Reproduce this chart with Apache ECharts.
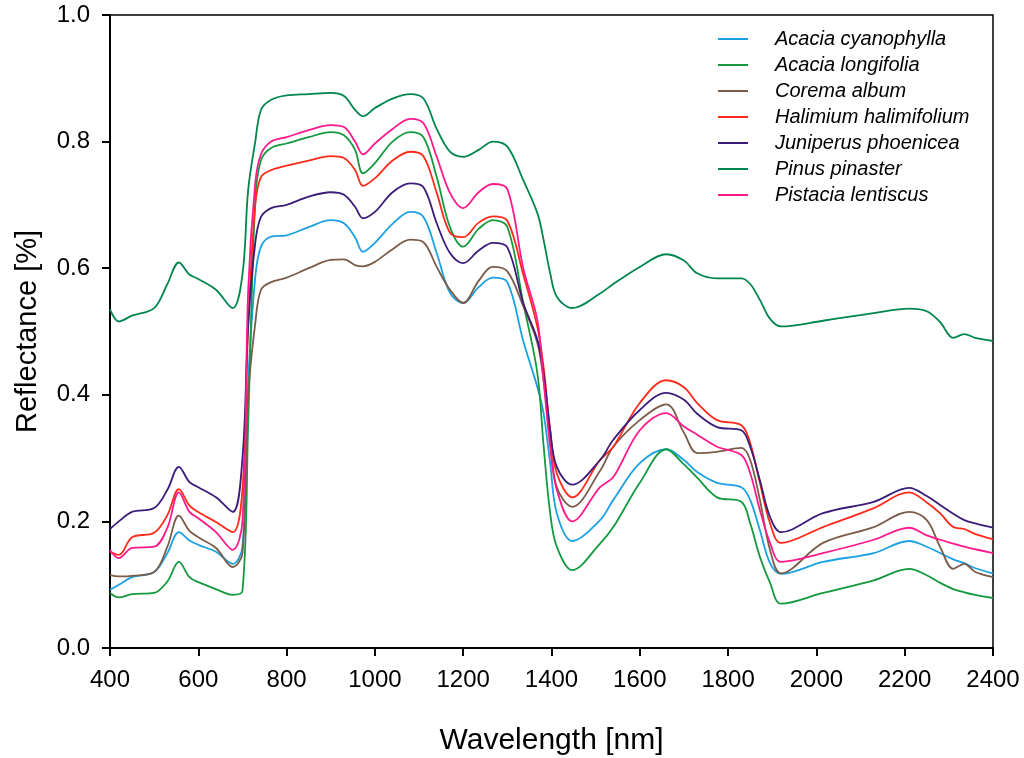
<!DOCTYPE html>
<html><head><meta charset="utf-8">
<script src="https://cdn.jsdelivr.net/npm/echarts@6/dist/echarts.min.js"></script>
<style>html,body{margin:0;padding:0;background:#fff}#c{width:1024px;height:758px}</style>
</head><body><div id="c"></div>
<script>
const wavelengths = [400,420,450,500,530,556,580,600,640,678,700,713,729,742,765,800,850,900,930,955,973,1000,1040,1080,1110,1140,1170,1200,1235,1267,1300,1336,1368,1382,1397,1412,1447,1510,1540,1600,1660,1700,1730,1775,1830,1850,1872,1895,1920,2015,2130,2210,2250,2280,2310,2335,2360,2400];

const acaciaCyanophylla = [0.092,0.100,0.112,0.120,0.150,0.183,0.170,0.163,0.152,0.133,0.160,0.420,0.586,0.634,0.650,0.652,0.665,0.676,0.671,0.649,0.626,0.640,0.670,0.689,0.681,0.624,0.561,0.545,0.570,0.585,0.578,0.485,0.412,0.371,0.292,0.213,0.169,0.202,0.234,0.292,0.314,0.297,0.278,0.261,0.254,0.234,0.186,0.134,0.117,0.136,0.150,0.169,0.160,0.150,0.140,0.134,0.126,0.118];
const acaciaLongifolia = [0.087,0.080,0.085,0.087,0.105,0.136,0.112,0.104,0.093,0.084,0.090,0.355,0.708,0.771,0.790,0.797,0.807,0.815,0.810,0.787,0.750,0.766,0.800,0.815,0.807,0.744,0.665,0.634,0.662,0.676,0.665,0.545,0.434,0.320,0.213,0.160,0.123,0.165,0.191,0.261,0.314,0.290,0.269,0.238,0.231,0.197,0.144,0.103,0.070,0.087,0.107,0.125,0.115,0.103,0.093,0.088,0.084,0.079];
const coremaAlbum = [0.115,0.113,0.114,0.120,0.160,0.209,0.185,0.175,0.158,0.128,0.150,0.400,0.513,0.566,0.578,0.585,0.600,0.613,0.614,0.605,0.603,0.610,0.630,0.645,0.641,0.602,0.566,0.545,0.580,0.602,0.595,0.540,0.482,0.423,0.329,0.254,0.223,0.280,0.318,0.360,0.385,0.340,0.308,0.310,0.316,0.297,0.234,0.155,0.118,0.166,0.191,0.215,0.202,0.160,0.125,0.133,0.120,0.112];
const halimium = [0.152,0.147,0.175,0.182,0.210,0.251,0.225,0.215,0.199,0.183,0.250,0.510,0.700,0.744,0.755,0.762,0.770,0.777,0.774,0.755,0.730,0.742,0.770,0.784,0.777,0.719,0.656,0.649,0.672,0.682,0.675,0.590,0.507,0.444,0.344,0.276,0.238,0.297,0.318,0.387,0.423,0.412,0.387,0.360,0.352,0.324,0.261,0.197,0.166,0.191,0.221,0.246,0.230,0.213,0.191,0.188,0.180,0.172];
const juniperus = [0.188,0.200,0.215,0.221,0.250,0.286,0.262,0.254,0.238,0.215,0.300,0.510,0.640,0.681,0.695,0.700,0.713,0.720,0.716,0.697,0.679,0.689,0.720,0.734,0.728,0.671,0.624,0.608,0.628,0.640,0.633,0.545,0.487,0.434,0.344,0.286,0.258,0.297,0.329,0.376,0.403,0.392,0.370,0.349,0.344,0.318,0.265,0.207,0.183,0.213,0.231,0.253,0.240,0.226,0.212,0.202,0.197,0.190];
const pinus = [0.535,0.516,0.525,0.537,0.575,0.609,0.590,0.583,0.566,0.537,0.590,0.724,0.800,0.850,0.866,0.873,0.875,0.877,0.872,0.850,0.840,0.853,0.868,0.875,0.868,0.820,0.784,0.776,0.787,0.800,0.792,0.739,0.687,0.645,0.592,0.555,0.537,0.560,0.575,0.602,0.622,0.612,0.592,0.584,0.584,0.575,0.550,0.520,0.508,0.517,0.529,0.536,0.532,0.515,0.490,0.496,0.490,0.485];
const pistacia = [0.155,0.142,0.158,0.160,0.190,0.246,0.215,0.205,0.183,0.155,0.200,0.566,0.735,0.780,0.800,0.807,0.818,0.826,0.823,0.800,0.780,0.797,0.820,0.836,0.829,0.776,0.719,0.695,0.720,0.733,0.725,0.600,0.518,0.423,0.318,0.250,0.200,0.254,0.270,0.344,0.371,0.350,0.337,0.318,0.305,0.276,0.218,0.166,0.136,0.150,0.171,0.190,0.178,0.171,0.165,0.160,0.156,0.150];

const seriesNames = ['Acacia cyanophylla','Acacia longifolia','Corema album','Halimium halimifolium','Juniperus phoenicea','Pinus pinaster','Pistacia lentiscus'];
const seriesValues = [acaciaCyanophylla, acaciaLongifolia, coremaAlbum, halimium, juniperus, pinus, pistacia];
const seriesColors = ['#1BA1E2','#14993F','#7A5C48','#FF2A1A','#3B1C78','#00864E','#FF1A8C'];

const chart = echarts.init(document.getElementById('c'));
const FONT = 'Liberation Sans, Arial, sans-serif';
chart.setOption({
  animation: false,
  backgroundColor: '#fff',
  grid: {left: 110, right: 31, top: 15, bottom: 110, containLabel: false, outerBoundsMode: 'none',
         show: true, borderColor: '#000', borderWidth: 1.5, backgroundColor: 'transparent'},
  legend: {
    orient: 'vertical', left: 713, top: 24, itemWidth: 30, itemHeight: 14, itemGap: 6,
    icon: 'path://M0,0 L30,0 L30,2 L0,2 Z',
    data: seriesNames,
    textStyle: {fontFamily: FONT, fontStyle: 'italic', fontSize: 20, lineHeight: 20, color: '#000', padding: [0,0,0,22]}
  },
  xAxis: {
    type: 'value', min: 400, max: 2400, interval: 200,
    name: 'Wavelength [nm]', nameLocation: 'middle', nameGap: 78,
    nameTextStyle: {fontFamily: FONT, fontSize: 30, color: '#000'},
    axisLine: {lineStyle: {color: '#000', width: 2}},
    axisTick: {inside: false, length: 8, lineStyle: {color: '#000', width: 2}},
    axisLabel: {fontFamily: FONT, fontSize: 24, color: '#000', margin: 20, formatter: v => String(v)},
    splitLine: {show: false}
  },
  yAxis: {
    type: 'value', min: 0, max: 1, interval: 0.2,
    name: 'Reflectance [%]', nameLocation: 'middle', nameGap: 68,
    nameTextStyle: {fontFamily: FONT, fontSize: 29, color: '#000'},
    axisLine: {show: true, lineStyle: {color: '#000', width: 2}},
    axisTick: {show: true, inside: false, length: 8, lineStyle: {color: '#000', width: 2}},
    axisLabel: {fontFamily: FONT, fontSize: 24, color: '#000', margin: 20, formatter: v => v.toFixed(1)},
    splitLine: {show: false}
  },
  series: seriesNames.map((name, i) => ({
    name: name, type: 'line', smooth: 0.35, showSymbol: false, symbol: 'none',
    color: seriesColors[i],
    lineStyle: {width: 1.8, color: seriesColors[i]},
    data: wavelengths.map((w, k) => [w, seriesValues[i][k]])
  }))
});
</script></body></html>
